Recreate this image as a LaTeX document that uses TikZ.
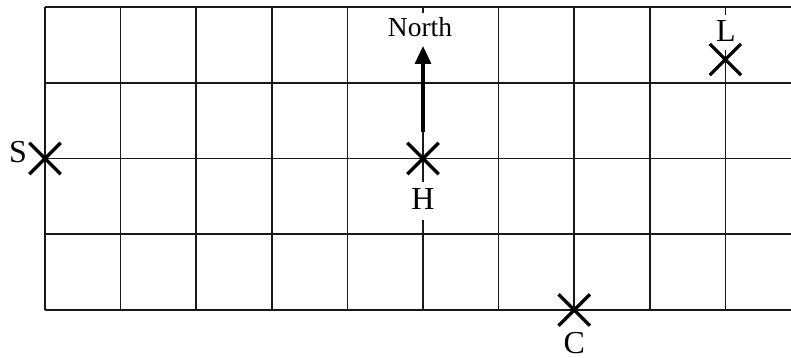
\documentclass[tikz,border=0pt]{standalone}
\usepackage{fontspec}
\setmainfont{Liberation Serif}
\usetikzlibrary{shapes.misc,arrows.meta}
\begin{document}
\begin{tikzpicture}[x=1pt,y=-1pt,
  gridline/.style={line width=1.6pt,black!90},
  xmark/.style={cross out,draw,minimum size=28pt,inner sep=0pt,line width=3.3pt},
  lbl/.style={font=\fontsize{32}{36}\selectfont,inner sep=0pt,anchor=base},
  northlbl/.style={font=\fontsize{27.5}{30}\selectfont,inner sep=0pt,anchor=base}]
\useasboundingbox (0,0) rectangle (791,358);
% horizontal lines
\foreach \y in {7,82.75,158.5,234.25,310}
  \draw[gridline] (45,\y) -- (791,\y);
% vertical lines (full)
\foreach \x in {45,120.6,196.2,271.8,347.4,498.6,574.2,649.8}
  \draw[gridline] (\x,7) -- (\x,310);
% vertical through H (interrupted by labels)
\coordinate (h1) at (423,7);
\coordinate (h2) at (423,13);
\coordinate (h3) at (423,132);
\coordinate (h4) at (423,182);
\coordinate (h5) at (423,220);
\coordinate (h6) at (423,310);
\draw[gridline] (h1) -- (h2) (h3) -- (h4) (h5) -- (h6);
% vertical through L
\coordinate (l1) at (725.4,7);
\coordinate (l2) at (725.4,15);
\coordinate (l3) at (725.4,50);
\coordinate (l4) at (725.4,310);
\draw[gridline] (l1) -- (l2) (l3) -- (l4);
% crosses
\node[xmark] (S) at (45,158.5) {};
\node[xmark] (H) at (423,158.5) {};
\node[xmark] (L) at (725.4,59.5) {};
\node[xmark] (C) at (574.2,310) {};
% labels
\node[lbl] (Slbl) at (18,162) {S};
\node[lbl] (Hlbl) at (423,209.5) {H};
\node[lbl] (Llbl) at (726,41.5) {L};
\node[lbl] (Clbl) at (574.2,353.5) {C};
\node[northlbl] (N) at (420,37) {North};
% arrow
\coordinate (a1) at (423,132);
\coordinate (a2) at (423,46);
\draw[line width=3.3pt,-{Triangle[width=16pt,length=18pt]}] (a1) -- (a2);
\end{tikzpicture}
\end{document}
